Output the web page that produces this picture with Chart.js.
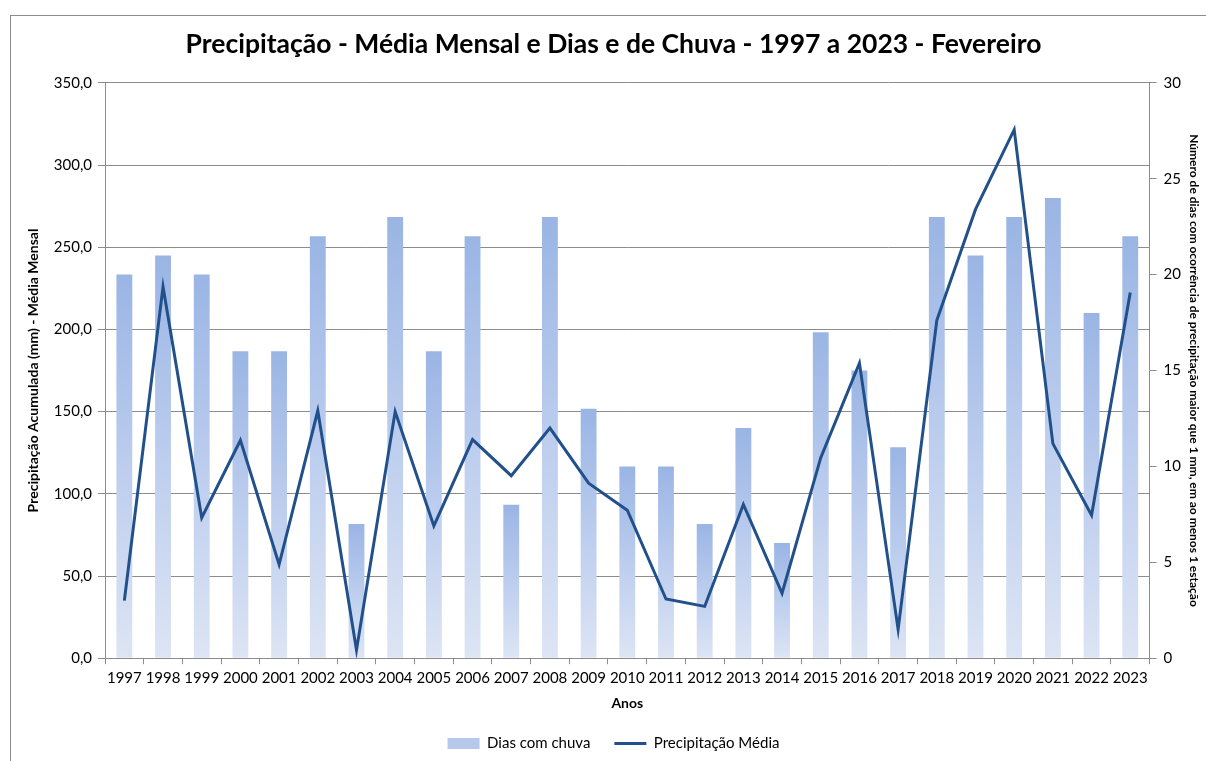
<!DOCTYPE html>
<html>
<head>
<meta charset="utf-8">
<script src="https://cdn.jsdelivr.net/npm/chart.js@4/dist/chart.umd.min.js"></script>
<style>
html,body{margin:0;padding:0;background:#fff;}
#wrap{position:relative;width:1206px;height:761px;overflow:hidden;}
#frame{position:absolute;left:10px;top:15px;width:1300px;height:900px;border-left:1px solid #8c8c8c;border-top:1px solid #8c8c8c;}
canvas{position:absolute;left:0;top:0;}
</style>
</head>
<body>
<div id="wrap">
<div id="frame"></div>
<canvas id="c" width="1206" height="761"></canvas>
</div>
<script>
const categories = ["1997","1998","1999","2000","2001","2002","2003","2004","2005","2006","2007","2008","2009","2010","2011","2012","2013","2014","2015","2016","2017","2018","2019","2020","2021","2022","2023"];
const diasComChuva = [20,21,20,16,16,22,7,23,16,22,8,23,13,10,10,7,12,6,17,15,11,23,21,23,24,18,22];
const precipitacaoMedia = [35,226,85.5,132.5,57,150.5,5,150,80.5,133,111,140,106.5,90,36,31.5,93.5,39.5,122,179.5,17.5,205.5,273,321.5,130.5,87,222.5];
const leftTicks = [0,50,100,150,200,250,300,350];
const rightTicks = [0,5,10,15,20,25,30];

const FONT = "Lato, 'Open Sans', sans-serif";

function barGradient(ctx){
  const chart = ctx.chart;
  if (ctx.type !== 'data') return '#a6bde6';
  const sc = chart.scales.y1;
  if (!sc || !chart.chartArea) return '#a6bde6';
  const top = sc.getPixelForValue(ctx.raw);
  const bottom = sc.getPixelForValue(0);
  const g = chart.ctx.createLinearGradient(0, top, 0, bottom);
  g.addColorStop(0, '#9ab5e4');
  g.addColorStop(0.5, '#bccdee');
  g.addColorStop(1, '#dde5f4');
  return g;
}

new Chart(document.getElementById('c'), {
  data: {
    labels: categories,
    datasets: [
      {
        type: 'line',
        label: 'Precipitação Média',
        data: precipitacaoMedia,
        yAxisID: 'y',
        borderColor: '#22508a',
        backgroundColor: '#22508a',
        borderWidth: 3,
        pointRadius: 0,
        tension: 0,
        order: 1
      },
      {
        type: 'bar',
        label: 'Dias com chuva',
        data: diasComChuva,
        yAxisID: 'y1',
        backgroundColor: barGradient,
        borderWidth: 0,
        categoryPercentage: 1,
        barPercentage: 0.41,
        order: 2
      }
    ]
  },
  options: {
    responsive: false,
    animation: false,
    layout: { padding: { left: 21, right: 0, top: 9, bottom: 0 } },
    plugins: {
      title: {
        display: true,
        text: 'Precipitação - Média Mensal e Dias e de Chuva - 1997 a 2023 - Fevereiro',
        font: { family: FONT, size: 26.5, weight: 'bold' },
        color: '#000',
        padding: { top: 20, bottom: 22 }
      },
      legend: {
        position: 'bottom',
        labels: {
          font: { family: FONT, size: 15 },
          color: '#000',
          usePointStyle: true,
          pointStyleWidth: 32,
          boxHeight: 11,
          padding: 24,
          generateLabels(chart){
            return [
              { text: 'Dias com chuva', fillStyle: '#b6c9ec', strokeStyle: '#b6c9ec', lineWidth: 0, datasetIndex: 1, fontColor: '#000', pointStyle: 'rect' },
              { text: 'Precipitação Média', fillStyle: '#22508a', strokeStyle: '#22508a', lineWidth: 3, datasetIndex: 0, fontColor: '#000', pointStyle: 'line' }
            ];
          }
        }
      },
      tooltip: { enabled: false }
    },
    scales: {
      x: {
        offset: true,
        grid: { offset: true, drawOnChartArea: false, drawTicks: true, tickLength: 6, color: '#8c8c8c' },
        border: { color: '#8c8c8c', width: 1 },
        ticks: { font: { family: FONT, size: 15 }, color: '#000', maxRotation: 0, autoSkip: false, padding: 5 },
        title: { display: true, text: 'Anos', font: { family: FONT, size: 14, weight: 'bold' }, color: '#000', padding: { top: 3, bottom: 0 } }
      },
      y: {
        position: 'left',
        min: 0, max: 350,
        afterBuildTicks(axis){ axis.ticks = leftTicks.map(v => ({ value: v })); },
        ticks: {
          font: { family: FONT, size: 15 }, color: '#000', padding: 6,
          callback: v => v.toFixed(1).replace('.', ',')
        },
        grid: { color: '#8c8c8c', tickLength: 7, lineWidth: 1 },
        border: { color: '#8c8c8c', width: 1 },
        title: { display: true, text: 'Precipitação Acumulada (mm) - Média Mensal', font: { family: FONT, size: 14, weight: 'bold' }, color: '#000', padding: { bottom: 6 } }
      },
      y1: {
        position: 'right',
        min: 0, max: 30,
        afterBuildTicks(axis){ axis.ticks = rightTicks.map(v => ({ value: v })); },
        ticks: { font: { family: FONT, size: 15 }, color: '#000', padding: 7 },
        grid: { drawOnChartArea: false, color: '#8c8c8c', tickLength: 7 },
        border: { color: '#8c8c8c', width: 1 },
        title: { display: true, text: 'Número de dias com ocorrência de precipitação maior que 1 mm, em ao menos 1 estação', font: { family: FONT, size: 12, weight: 'bold', lineHeight: 1 }, color: '#000', padding: { top: 6, bottom: 0 } }
      }
    }
  }
});
</script>
</body>
</html>
